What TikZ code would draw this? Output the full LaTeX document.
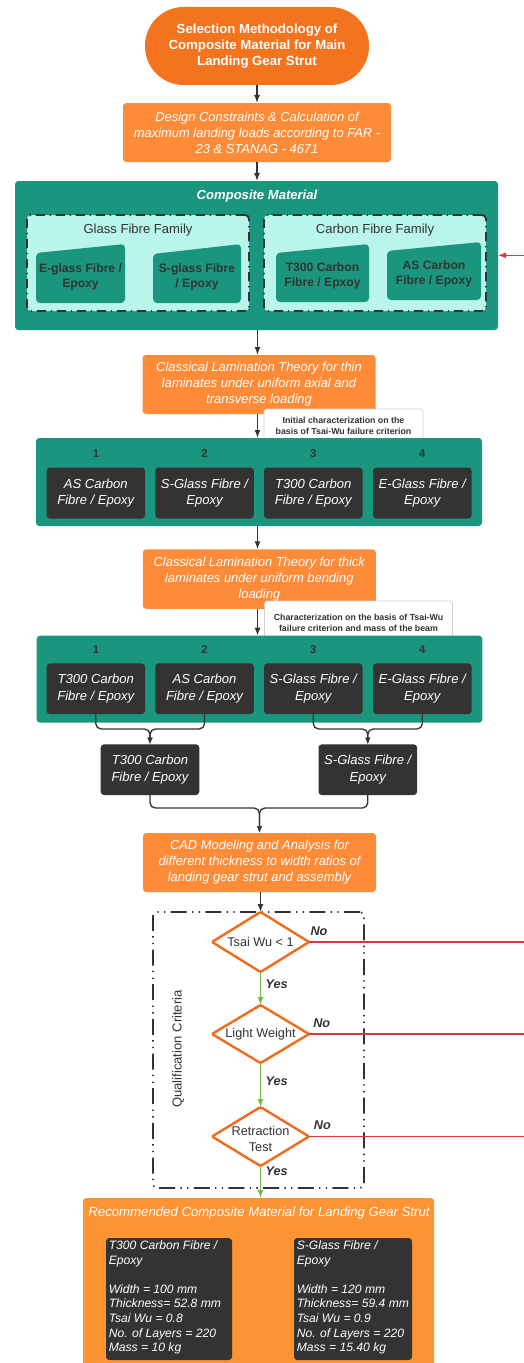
\documentclass[tikz,border=0pt]{standalone}
\usepackage{fontspec}
\setmainfont{Liberation Sans}
\usetikzlibrary{shapes.geometric,arrows.meta}
\definecolor{titleor}{HTML}{F4731F}
\definecolor{boxor}{HTML}{FD8B38}
\definecolor{botor}{HTML}{FD9433}
\definecolor{teal1}{HTML}{19967D}
\definecolor{cyan1}{HTML}{B9F5EA}
\definecolor{dark1}{HTML}{333333}
\definecolor{txt}{HTML}{333333}
\definecolor{red1}{HTML}{D9363E}
\definecolor{green1}{HTML}{7AB648}
\definecolor{dor}{HTML}{F26A1B}
\definecolor{lgrey}{HTML}{D0D0D0}
\tikzset{
  wh/.style 2 args={minimum width=#1*0.75pt,minimum height=#2*0.75pt,inner sep=0pt,outer sep=0pt},
  obox/.style={rectangle,fill=boxor,rounded corners=2.5pt,text=white,align=center,font=\itshape\fontsize{9.7}{12}\selectfont},
  tbox/.style={rectangle,fill=teal1,rounded corners=2.5pt},
  dbox/.style={rectangle,fill=dark1,rounded corners=2.5pt,text=white,align=center,font=\itshape\fontsize{9.8}{12.5}\selectfont},
  fam/.style={rectangle,fill=cyan1,draw=txt,line width=1.4pt,dash pattern=on 7pt off 3.5pt on 1pt off 3.5pt,rounded corners=3pt},
  famt/.style={text=txt,font=\fontsize{9.8}{12}\selectfont},
  subt/.style={text=txt,align=center,font=\bfseries\fontsize{9.1}{11.5}\selectfont},
  num/.style={text=txt,font=\bfseries\fontsize{8.5}{10}\selectfont},
  lab/.style={text=txt,align=center,font=\bfseries\fontsize{6.6}{8.25}\selectfont,inner sep=0pt},
  conn/.style={draw=txt,line width=1.1pt,-{Latex[length=6pt,width=4.5pt]}},
  mconn/.style={draw=txt,line width=1pt,rounded corners=4pt,-{Latex[length=5pt,width=4pt]}},
  dia/.style={diamond,draw=dor,fill=white,line width=1.8pt,rounded corners=1pt},
  diat/.style={text=txt,align=center,font=\fontsize{9.5}{11.7}\selectfont,inner sep=0pt},
  yn/.style={text=txt,font=\bfseries\itshape\fontsize{9.5}{12}\selectfont},
  gconn/.style={draw=green1,line width=0.8pt,-{Latex[length=6pt,width=4.5pt]}},
  rline/.style={draw=red1,line width=0.9pt},
  qfr/.style={rectangle,draw=txt,line width=1.3pt,dash pattern=on 12pt off 4pt on 1pt off 4pt on 1pt off 4pt,rounded corners=3pt},
  spec/.style={anchor=north west,align=left,text=white,inner sep=0pt,font=\itshape\fontsize{9.1}{10.95}\selectfont}
}
\begin{document}
\begin{tikzpicture}[x=0.75pt,y=-0.75pt]
\useasboundingbox (0,0) rectangle (524,1363);
\fill[white] (0,0) rectangle (524,1363);

% title
\node[wh={224}{78},fill=titleor,rounded corners=29pt,text=white,align=center,font=\bfseries\fontsize{9.9}{11.9}\selectfont] (title) at (257,46) {Selection Methodology of\\Composite Material for Main\\Landing Gear Strut};
\node[obox,wh={268}{59}] (dc) at (257,132.5) {Design Constraints \& Calculation of\\maximum landing loads according to FAR -\\23 \& STANAG - 4671};

% composite material
\node[tbox,wh={483}{149}] (comp) at (256.5,255.5) {};
\node[text=white,font=\bfseries\itshape\fontsize{9.8}{12}\selectfont] (compt) at (257,196) {Composite Material};
\node[fam,wh={222}{96}] (glass) at (138,263) {};
\node[fam,wh={222}{96}] (carbon) at (375,263) {};
\node[famt] (glasst) at (138,230) {Glass Fibre Family};
\node[famt] (carbont) at (375,230) {Carbon Fibre Family};
\fill[teal1,rounded corners=3pt] (36,253) -- (125,244) -- (125,303) -- (36,303) -- cycle;
\fill[teal1,rounded corners=3pt] (153,254) -- (241,244) -- (241,303) -- (153,303) -- cycle;
\fill[teal1,rounded corners=3pt] (276,253) -- (369,244) -- (369,302) -- (276,302) -- cycle;
\fill[teal1,rounded corners=3pt] (387,251) -- (481,242) -- (481,300) -- (387,300) -- cycle;
\node[subt] (eg) at (80.5,277) {E-glass Fibre /\\Epoxy};
\node[subt] (sg) at (197,277) {S-glass Fibre\\/ Epoxy};
\node[subt] (tc) at (322.5,276) {T300 Carbon\\Fibre / Epxoy};
\node[subt] (ac) at (434,274) {AS Carbon\\Fibre / Epoxy};
\coordinate (rin) at (524,255.3);
\draw[red1,line width=0.9pt,-{Latex[length=6pt,width=4.5pt]}] (rin) -- (comp.east |- rin);

% CLT thin
\node[obox,wh={233}{59}] (clt1) at (259,384.5) {Classical Lamination Theory for thin\\laminates under uniform axial and\\transverse loading};
\node[draw=lgrey,fill=white,rounded corners=2pt,wh={159}{36}] (lb1box) at (343.5,427) {};
\node[lab] (lb1) at (343.5,425.5) {Initial characterization on the\\basis of Tsai-Wu failure criterion};
\node[tbox,wh={446}{88}] (row1) at (259,482) {};
\node[num] (n11) at (96,454) {1};
\node[num] (n12) at (204.5,454) {2};
\node[num] (n13) at (313.3,454) {3};
\node[num] (n14) at (422.3,454) {4};
\node[dbox,wh={98.5}{51}] (a1) at (95.8,493) {AS Carbon\\Fibre / Epoxy};
\node[dbox,wh={98.5}{51}] (a2) at (204.5,493) {S-Glass Fibre /\\Epoxy};
\node[dbox,wh={98.5}{51}] (a3) at (313.3,493) {T300 Carbon\\Fibre / Epoxy};
\node[dbox,wh={98.5}{51}] (a4) at (422.3,493) {E-Glass Fibre /\\Epoxy};

% CLT thick
\node[obox,wh={233}{59.5}] (clt2) at (259.3,579) {Classical Lamination Theory for thick\\laminates under uniform bending\\loading};
\node[draw=lgrey,fill=white,rounded corners=2pt,wh={188}{44}] (lb2box) at (358.5,623) {};
\node[lab] (lb2) at (358.5,622.5) {Characterization on the basis of Tsai-Wu\\failure criterion and mass of the beam};
\node[tbox,wh={445.6}{87}] (row2) at (259.5,679.2) {};
\node[num] (n21) at (96,650) {1};
\node[num] (n22) at (204.5,650) {2};
\node[num] (n23) at (313.3,650) {3};
\node[num] (n24) at (422.3,650) {4};
\node[dbox,wh={98.5}{50.7}] (b1) at (95.8,688.7) {T300 Carbon\\Fibre / Epoxy};
\node[dbox,wh={98.5}{50.7}] (b2) at (204.5,688.7) {AS Carbon\\Fibre / Epoxy};
\node[dbox,wh={98.5}{50.7}] (b3) at (313.3,688.7) {S-Glass Fibre /\\Epoxy};
\node[dbox,wh={98.5}{50.7}] (b4) at (422.3,688.7) {E-Glass Fibre /\\Epoxy};

% results
\node[dbox,wh={98.6}{50.7}] (r1) at (150,769.7) {T300 Carbon\\Fibre / Epoxy};
\node[dbox,wh={98.6}{50.7}] (r2) at (367.8,769.7) {S-Glass Fibre /\\Epoxy};
\node[obox,wh={233}{59}] (cad) at (259.5,862.5) {CAD Modeling and Analysis for\\different thickness to width ratios of\\landing gear strut and assembly};

% main arrows
\coordinate (ax) at (257.5,0);
\draw[conn] (title.south) -- (title.south |- dc.north);
\draw[conn] (dc.south) -- (dc.south |- comp.north);
\draw[conn] (ax |- comp.south) -- (ax |- clt1.north);
\draw[conn] (ax |- clt1.south) -- (ax |- row1.north);
\draw[conn] (ax |- row1.south) -- (ax |- clt2.north);
\draw[conn] (ax |- clt2.south) -- (ax |- row2.north);

% merges
\coordinate (j1) at (150,729);
\coordinate (j2) at (367.8,729);
\coordinate (j3) at (259.5,808);
\draw[mconn] (b1.south) |- (j1) -- (r1.north);
\draw[mconn] (b2.south) |- (j1) -- (r1.north);
\draw[mconn] (b3.south) |- (j2) -- (r2.north);
\draw[mconn] (b4.south) |- (j2) -- (r2.north);
\draw[mconn] (r1.south) |- (j3) -- (cad.north);
\draw[mconn] (r2.south) |- (j3) -- (cad.north);

% qualification
\node[qfr,wh={211}{276}] (qf) at (258.5,1050) {};
\node[rotate=90,text=txt,font=\fontsize{9.8}{12}\selectfont] (qt) at (178,1049) {Qualification Criteria};
\node[dia,wh={97}{60}] (d1) at (260.5,942) {};
\node[dia,wh={97}{58}] (d2) at (260.5,1034) {};
\node[dia,wh={97}{59}] (d3) at (260.5,1136.5) {};
\node[diat] (d1t) at (260.5,942) {Tsai Wu < 1};
\node[diat] (d2t) at (260.5,1034) {Light Weight};
\node[diat] (d3t) at (260.5,1139) {Retraction\\Test};
\draw[conn] (cad.south -| d1.north) -- (d1.north);

\draw[gconn] (d1.south) -- (d2.north);
\draw[gconn] (d2.south) -- (d3.north);
\node[yn] (y1) at (276.7,984) {Yes};
\node[yn] (y2) at (276.7,1080.7) {Yes};
\node[yn] (y3) at (276.7,1171) {Yes};
\coordinate (re1) at (524,942);
\coordinate (re2) at (524,1034);
\coordinate (re3) at (524,1136.5);
\draw[rline] (d1.east) -- (re1);
\draw[rline] (d2.east) -- (re2);
\draw[rline] (d3.east) -- (re3);
\node[yn] (no1) at (319,931) {No};
\node[yn] (no2) at (321.7,1023) {No};
\node[yn] (no3) at (322.3,1125) {No};

% recommended
\node[fill=botor,rounded corners=2.5pt,wh={351}{177}] (rec) at (258.5,1286.5) {};
\draw[gconn] (d3.south) -- (d3.south |- rec.north);
\node[text=white,font=\itshape\fontsize{9.9}{12}\selectfont] (rect) at (259,1213) {Recommended Composite Material for Landing Gear Strut};
\node[fill=dark1,rounded corners=2.5pt,wh={126}{122}] (s1) at (169,1299) {};
\node[fill=dark1,rounded corners=2.5pt,wh={118}{122}] (s2) at (353,1299) {};
\node[spec] (s1t) at (108.5,1240.5) {T300 Carbon Fibre /\\Epoxy\\[10.95pt]Width = 100 mm\\Thickness= 52.8 mm\\Tsai Wu = 0.8\\No. of Layers = 220\\Mass = 10 kg};
\node[spec] (s2t) at (296.5,1240.5) {S-Glass Fibre /\\Epoxy\\[10.95pt]Width = 120 mm\\Thickness= 59.4 mm\\Tsai Wu = 0.9\\No. of Layers = 220\\Mass = 15.40 kg};
\end{tikzpicture}
\end{document}
